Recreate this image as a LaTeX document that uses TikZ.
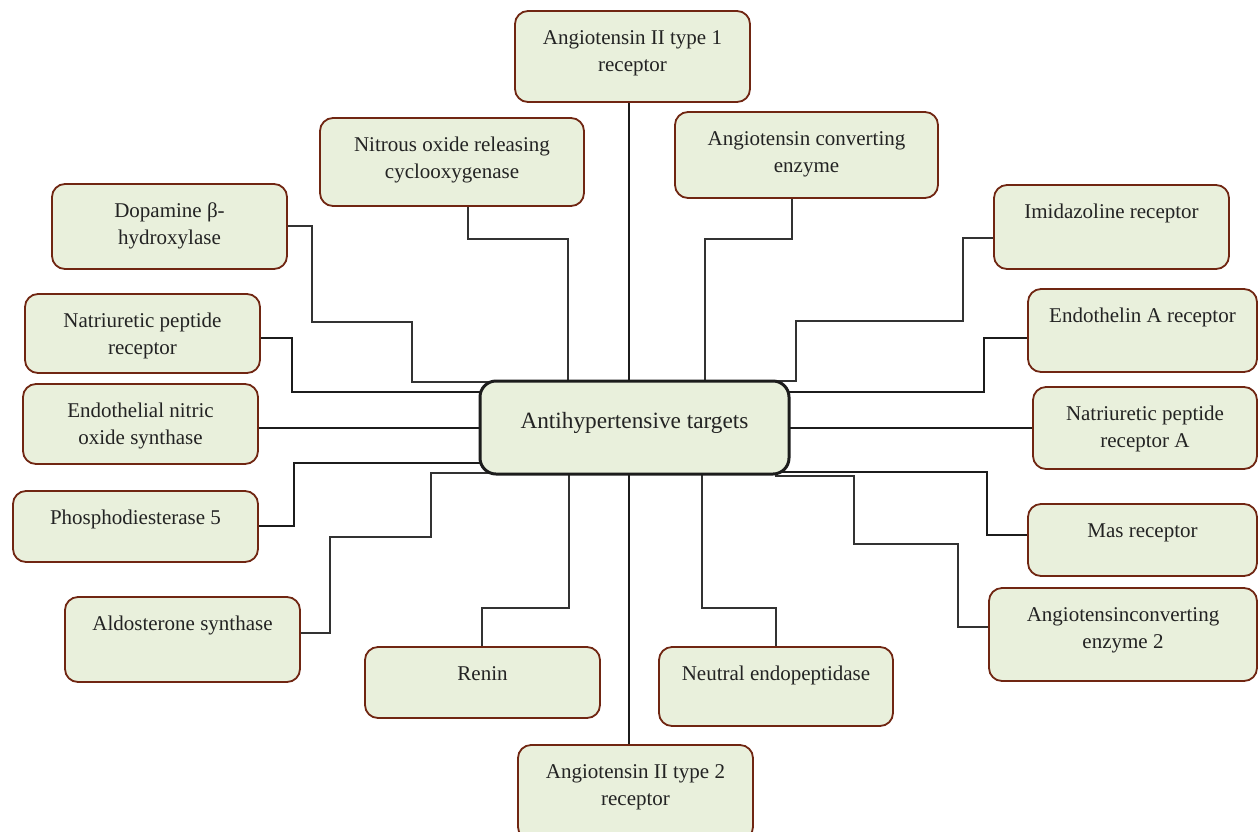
\documentclass[tikz,border=0pt]{standalone}
\usepackage{fontspec}
\setmainfont{Liberation Serif}
\usetikzlibrary{backgrounds}
\definecolor{boxfill}{RGB}{233,240,220}
\definecolor{boxedge}{RGB}{112,38,18}
\definecolor{txt}{RGB}{35,35,35}
\definecolor{thickln}{RGB}{28,28,28}
\definecolor{thinln}{RGB}{50,50,50}
\tikzset{
  tbox/.style={draw=boxedge, line width=1.8pt, fill=boxfill, rounded corners=13pt, inner sep=0pt, outer sep=0pt, text=txt},
  cbox/.style={draw=thickln, line width=3pt, fill=boxfill, rounded corners=16pt, inner sep=0pt, outer sep=0pt, text=txt},
  thk/.style={draw=thickln, line width=2pt},
  thn/.style={draw=thinln, line width=1.3pt},
}
\newcommand\tboxnode[6]{%
  \pgfmathsetmacro\bw{#4-#2}\pgfmathsetmacro\bh{#5-#3}%
  \node[tbox] (#1) at ({(#2+#4)/2},{(#3+#5)/2})
    {\parbox[c][\bh pt][t]{\bw pt}{\fontsize{21}{27}\selectfont\centering\vspace*{15pt}\strut #6\par}};%
}
\begin{document}
\begin{tikzpicture}[x=1pt,y=-1pt]
\clip (0,0) rectangle (1258,831);
% central node
\node[cbox] (cen) at ({(480+789)/2},{(381+474)/2})
  {\parbox[c][93pt][t]{309pt}{\fontsize{23.3}{28}\selectfont\centering\vspace*{28pt}\strut Antihypertensive targets\par}};
% target boxes
\tboxnode{a1}{515}{11}{750}{102}{Angiotensin II type 1\\receptor}
\tboxnode{nit}{320}{118}{584}{206}{Nitrous oxide releasing\\cyclooxygenase}
\tboxnode{ace}{675}{112}{938}{198}{Angiotensin converting\\enzyme}
\tboxnode{dop}{52}{184}{287}{269}{Dopamine β-\\hydroxylase}
\tboxnode{npr}{25}{294}{260}{373}{Natriuretic peptide\\receptor}
\tboxnode{enos}{23}{384}{258}{464}{Endothelial nitric\\oxide synthase}
\tboxnode{pde}{13}{491}{258}{562}{Phosphodiesterase 5}
\tboxnode{ald}{65}{597}{300}{682}{Aldosterone synthase}
\tboxnode{ren}{365}{647}{600}{718}{Renin}
\tboxnode{nep}{659}{647}{893}{726}{Neutral endopeptidase}
\tboxnode{at2}{518}{745}{753}{840}{Angiotensin II type 2\\receptor}
\tboxnode{imid}{994}{185}{1229}{269}{Imidazoline receptor}
\tboxnode{eta}{1028}{289}{1257}{372}{Endothelin A receptor}
\tboxnode{npra}{1033}{387}{1257}{469}{Natriuretic peptide\\receptor A}
\tboxnode{mas}{1028}{504}{1257}{576}{Mas receptor}
\tboxnode{ace2}{989}{588}{1257}{681}{Angiotensinconverting\\enzyme 2}
% connectors (behind the boxes)
\begin{pgfonlayer}{background}
\fill[white] (0,0) rectangle (1258,831);
\draw[thk] (a1.south -| 629,0) -- (cen.north -| 629,0);
\draw[thk] (cen.south -| 629,0) -- (at2.north -| 629,0);
\draw[thn] (nit.south -| 468,0) -- (468,239) -- (568,239) -- (cen.center -| 568,0);
\draw[thn] (dop.east |- 0,226) -- (312,226) -- (312,322) -- (412,322) -- (412,382) -- (cen.center |- 0,382);
\draw[thk] (npr.east |- 0,338) -- (292,338) -- (292,392) -- (cen.center |- 0,392);
\draw[thk] (enos.east |- 0,428) -- (cen.west |- 0,428);
\draw[thk] (pde.east |- 0,526) -- (294,526) -- (294,463) -- (cen.center |- 0,463);
\draw[thn] (ald.east |- 0,633) -- (330,633) -- (330,537) -- (431,537) -- (431,473) -- (cen.center |- 0,473);
\draw[thn] (ren.north -| 482,0) -- (482,608) -- (569,608) -- (cen.center -| 569,0);
\draw[thn] (cen.center -| 702,0) -- (702,608) -- (776,608) -- (nep.north -| 776,0);
\draw[thn] (cen.south -| 776,0) -- (776,476) -- (854,476) -- (854,544) -- (958,544) -- (958,627) -- (ace2.west |- 0,627);
\draw[thk] (cen.center |- 0,472) -- (987,472) -- (987,535) -- (mas.west |- 0,535);
\draw[thk] (cen.east |- 0,428) -- (npra.west |- 0,428);
\draw[thk] (cen.center |- 0,392) -- (984,392) -- (984,338) -- (eta.west |- 0,338);
\draw[thn] (imid.west |- 0,238) -- (963,238) -- (963,321) -- (796,321) -- (796,381) -- (cen.center |- 0,381);
\draw[thn] (ace.south -| 792,0) -- (792,239) -- (705,239) -- (cen.center -| 705,0);
\end{pgfonlayer}
\end{tikzpicture}
\end{document}
